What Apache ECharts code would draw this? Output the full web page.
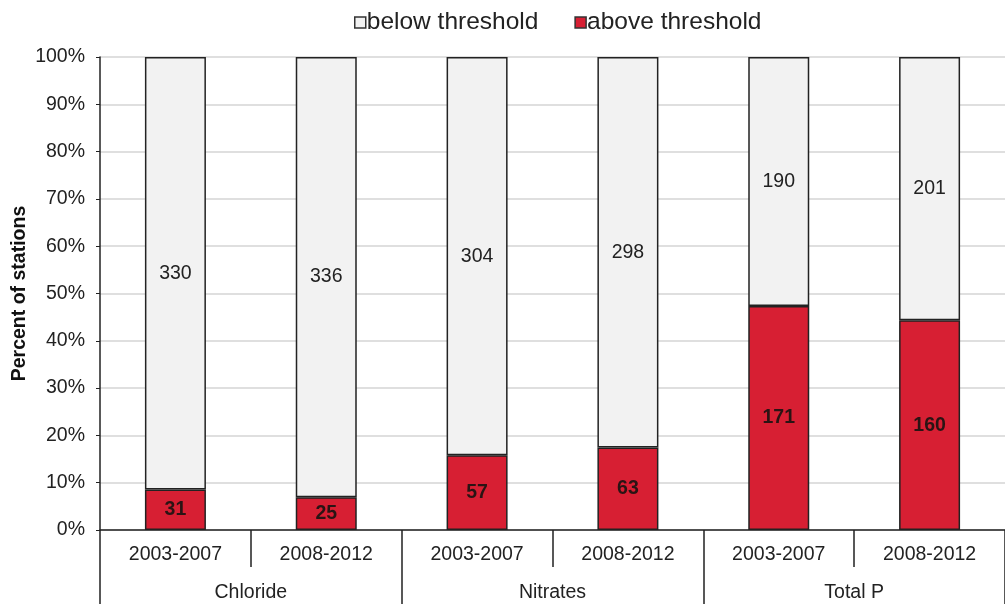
<!DOCTYPE html>
<html><head><meta charset="utf-8">
<script src="https://cdn.jsdelivr.net/npm/echarts@6/dist/echarts.min.js"></script>
<style>html,body{margin:0;padding:0;background:#fff}#c{width:1005px;height:604px}</style>
</head><body><div id="c"></div>
<script>
const periods = ['2003-2007','2008-2012','2003-2007','2008-2012','2003-2007','2008-2012'];
const groups = ['Chloride','Nitrates','Total P'];
const belowCounts = [330, 336, 304, 298, 190, 201];
const aboveCounts = [31, 25, 57, 63, 171, 160];
const yTicks = ['0%','10%','20%','30%','40%','50%','60%','70%','80%','90%','100%'];

const totals = belowCounts.map((b,i)=>b+aboveCounts[i]);
const abovePct = aboveCounts.map((a,i)=>a/totals[i]*100);
const belowPct = belowCounts.map((b,i)=>b/totals[i]*100);
const FONT = '"Liberation Sans", Arial, sans-serif';
const FS = 19.5;

const chart = echarts.init(document.getElementById('c'), null, {renderer:'canvas'});
chart.setOption({
  animation:false,
  textStyle:{fontFamily:FONT},
  legend:{
    top:5, left:349, itemGap:36, itemWidth:11, itemHeight:11,
    textStyle:{fontSize:24.5, color:'#222', fontFamily:FONT, padding:[0,0,0,-4]},
    data:[
      {name:'below threshold', icon:'rect', itemStyle:{color:'#f2f2f2', borderColor:'#333', borderWidth:1.5}},
      {name:'above threshold', icon:'rect', itemStyle:{color:'#d71f33', borderColor:'#333', borderWidth:1.5}}
    ]
  },
  grid:{left:100, right:0, top:57, bottom:74, outerBoundsMode:'none', containLabel:false},
  xAxis:[
    {type:'category', data:periods, gridIndex:0, position:'bottom',
     axisLine:{lineStyle:{color:'#222', width:1.5}},
     axisTick:{show:true, interval:0, length:37, lineStyle:{color:'#222', width:1.5}},
     axisLabel:{interval:0, fontSize:FS, color:'#222', margin:15, fontFamily:FONT}},
    {type:'category', data:groups, gridIndex:0, position:'bottom',
     axisLine:{show:false},
     axisTick:{show:true, interval:0, length:76, lineStyle:{color:'#222', width:1.5}},
     axisLabel:{interval:0, fontSize:FS, color:'#222', margin:53, fontFamily:FONT}}
  ],
  yAxis:{
    type:'value', min:0, max:100, interval:10,
    name:'Percent of stations', nameLocation:'middle', nameGap:70, nameMoveOverlap:false,
    nameTextStyle:{fontSize:FS, fontWeight:'bold', color:'#111', fontFamily:FONT},
    axisLine:{show:true, lineStyle:{color:'#222', width:1.5}},
    axisTick:{show:true, length:4, lineStyle:{color:'#222'}},
    axisLabel:{fontSize:FS, color:'#222', margin:15, fontFamily:FONT,
      formatter:(v)=>yTicks[Math.round(v/10)]},
    splitLine:{lineStyle:{color:'#d4d4d4', width:1.5}}
  },
  series:[
    {name:'above threshold', type:'bar', stack:'s', data:abovePct, barWidth:61,
     itemStyle:{color:'#d71f33', borderColor:'#222', borderWidth:1.5},
     label:{show:true, position:'inside', fontSize:FS, fontWeight:'bold', color:'#2a1414', fontFamily:FONT,
       formatter:(p)=>aboveCounts[p.dataIndex]}},
    {name:'below threshold', type:'bar', stack:'s', data:belowPct, barWidth:61,
     itemStyle:{color:'#f2f2f2', borderColor:'#222', borderWidth:1.5},
     label:{show:true, position:'inside', fontSize:FS, color:'#222', fontFamily:FONT,
       formatter:(p)=>belowCounts[p.dataIndex]}}
  ]
});
</script></body></html>
